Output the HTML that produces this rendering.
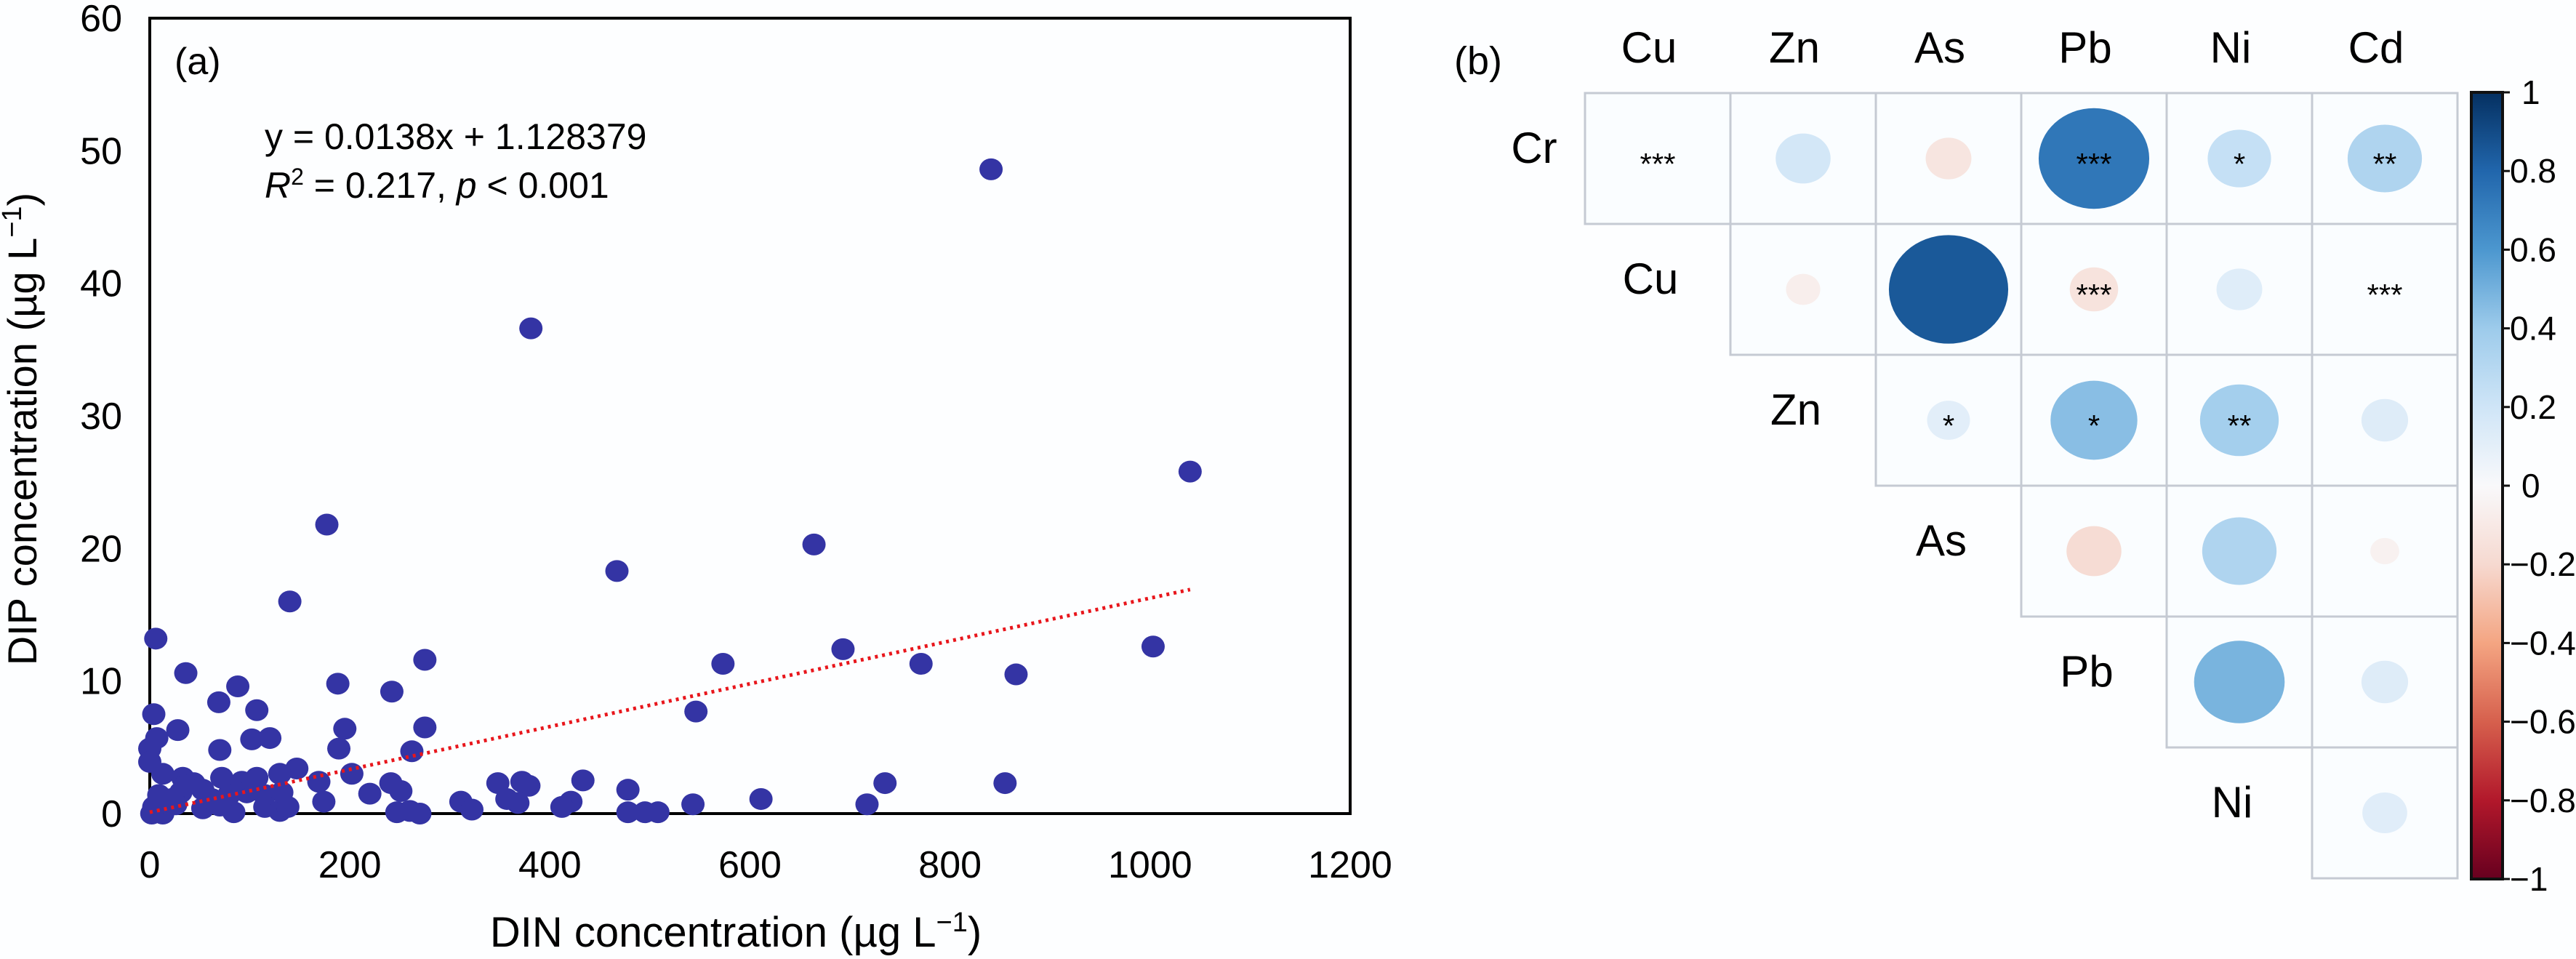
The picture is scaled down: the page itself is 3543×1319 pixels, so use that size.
<!DOCTYPE html>
<html><head><meta charset="utf-8"><style>
html,body{margin:0;padding:0;background:#fdfeff}
svg{display:block}
text{font-family:"Liberation Sans",sans-serif;fill:#000}
</style></head><body>
<svg id="fig" width="3543" height="1319" viewBox="0 0 3543 1319" xmlns="http://www.w3.org/2000/svg">
<rect x="0" y="0" width="3543" height="1319" fill="#fdfeff"/>
<g id="pa"></g>
<g id="pb"></g>
</svg>
<script>
// ---- Panel (a) data ----
const dinX=[841,381,1040,177,664,467,140,6,693,1003,275,573,771,866,36,88,188,242,69,107,546,4,275,195,28,102,120,7,70,189,262,0,0,147,130,202,13,33,44,72,92,107,169,241,251,220,348,372,379,433,478,735,855,174,311,322,357,368,421,412,478,495,508,543,611,717,247,270,260,130,138,115,84,53,13,2,4,22,9,31,53,79,62,35,97,115,132,26,70];
const dipY=[48.6,36.6,25.8,21.8,20.3,18.3,16.0,13.2,12.4,12.6,11.6,11.3,11.3,10.5,10.6,9.6,9.8,9.2,8.4,7.8,7.7,7.5,6.5,6.4,6.3,5.6,5.7,5.7,4.8,4.9,4.7,4.9,3.9,3.4,3.0,3.0,3.0,2.7,2.3,2.7,2.4,2.7,2.4,2.3,1.7,1.5,2.3,2.4,2.1,2.5,1.8,2.3,2.3,0.9,0.9,0.3,1.1,0.8,0.9,0.5,0.1,0.1,0.1,0.7,1.1,0.7,0.1,0,0.2,0.2,0.5,0.5,0.1,0.4,0,0,0.5,1.1,1.4,1.6,1.8,1.4,1.1,2.1,1.6,1.4,1.6,0.7,0.6];
const trendX=[0,1040];
const trendY=[0.1,16.9];
const xTicks=[0,200,400,600,800,1000,1200];
const yTicks=[0,10,20,30,40,50,60];

// ---- Panel (b) data ----
const rowNames=["Cr","Cu","Zn","As","Pb","Ni"];
const colNames=["Cu","Zn","As","Pb","Ni","Cd"];
const corrRows=[
 [0.005,0.18,-0.125,0.73,0.24,0.33],
 [null,-0.07,0.85,-0.14,0.125,0],
 [null,null,0.11,0.45,0.37,0.13],
 [null,null,null,-0.18,0.33,-0.05],
 [null,null,null,null,0.49,0.13],
 [null,null,null,null,null,0.12]];
const starRows=[
 ["***","","","***","*","**"],
 ["","","","***","","***"],
 ["","","*","*","**",""],
 ["","","","","",""],
 ["","","","","",""],
 ["","","","","",""]];
const cbTicks=[1,0.8,0.6,0.4,0.2,0,-0.2,-0.4,-0.6,-0.8,-1];
const cbLabels=["1","0.8","0.6","0.4","0.2","0","−0.2","−0.4","−0.6","−0.8","−1"];

const NS="http://www.w3.org/2000/svg";
function mk(tag,attrs,parent){const e=document.createElementNS(NS,tag);for(const k in attrs)e.setAttribute(k,attrs[k]);parent.appendChild(e);return e;}

// ---- draw panel (a) ----
const pa=document.getElementById('pa');
const X0=206,X1=1857,Y0=1119,Y1=25;
const sx=v=>X0+(v-0)/(1200-0)*(X1-X0);
const sy=v=>Y0-(v-0)/(60-0)*(Y0-Y1);
let frame=mk('rect',{x:X0,y:Y1,width:X1-X0,height:Y0-Y1,fill:'none',stroke:'#000','stroke-width':4},pa);


xTicks.forEach(t=>{const e=mk('text',{x:sx(t),y:1207,'font-size':52,'text-anchor':'middle'},pa);e.textContent=t;

});
yTicks.forEach(t=>{const e=mk('text',{x:168,y:sy(t)+18,'font-size':52,'text-anchor':'end'},pa);e.textContent=t;

});
let xt=mk('text',{x:1012,y:1302,'font-size':58,'text-anchor':'middle'},pa);
xt.innerHTML='DIN concentration (µg L<tspan baseline-shift="super" font-size="38">−1</tspan>)';


let yt=mk('text',{x:0,y:0,'font-size':56,'text-anchor':'middle',transform:'translate(50,590) rotate(-90)'},pa);
yt.innerHTML='DIP concentration (µg L<tspan baseline-shift="super" font-size="38">−1</tspan>)';


let la=mk('text',{x:240,y:102,'font-size':52},pa);la.textContent='(a)';


let eq1=mk('text',{x:364,y:205,'font-size':50},pa);eq1.textContent='y = 0.0138x + 1.128379';


let eq2=mk('text',{x:364,y:272,'font-size':50},pa);
eq2.innerHTML='<tspan font-style="italic">R</tspan><tspan baseline-shift="super" font-size="32">2</tspan> = 0.217, <tspan font-style="italic">p</tspan> &lt; 0.001';


dinX.forEach((v,i)=>{const c=mk('ellipse',{cx:sx(v),cy:sy(dipY[i]),rx:16,ry:15,fill:'#3434a4'},pa);

});
let tl=mk('line',{x1:sx(trendX[0]),y1:sy(trendY[0]),x2:sx(trendX[1]),y2:sy(trendY[1]),stroke:'#e8161c','stroke-width':5,'stroke-dasharray':'4 6'},pa);



// ---- draw panel (b) ----
const pb=document.getElementById('pb');
const GX=2180,GY=128,CW=200,CH=180;
const stops=["#67001f","#b2182b","#d6604d","#f4a582","#f6d9d0","#f9f9fb","#cfe5f7","#9dcbeb","#4c97cf","#2166ac","#053061"];
function hex(h){return [1,3,5].map(i=>parseInt(h.substr(i,2),16));}
function cmap(v){const t=(v+1)/2*10;const i=Math.min(9,Math.floor(t));const f=t-i;const a=hex(stops[i]),b=hex(stops[i+1]);
return 'rgb('+a.map((x,k)=>Math.round(x+(b[k]-x)*f)).join(',')+')';}
let lb=mk('text',{x:2000,y:102,'font-size':54},pb);lb.textContent='(b)';


colNames.forEach((n,j)=>{const e=mk('text',{x:GX+CW*j+CW/2-12,y:86,'font-size':60,'text-anchor':'middle'},pb);e.textContent=n;

});
rowNames.forEach((n,i)=>{const cx=i===0?2110:GX+CW*(i-1)+CW/2-10;const e=mk('text',{x:cx,y:GY+CH*i+CH/2+6,'font-size':60,'text-anchor':'middle'},pb);e.textContent=n;

});
corrRows.forEach((row,i)=>row.forEach((v,j)=>{if(v===null)return;
const r=mk('rect',{x:GX+CW*j,y:GY+CH*i,width:CW,height:CH,fill:'#fafdff',stroke:'#c5cad3','stroke-width':3},pb);

}));
corrRows.forEach((row,i)=>row.forEach((v,j)=>{if(v===null)return;
const w=178*Math.sqrt(Math.abs(v));
const e=mk('ellipse',{cx:GX+CW*j+CW/2,cy:GY+CH*i+CH/2,rx:w/2,ry:w*0.91/2,fill:cmap(v)},pb);


const s=starRows[i][j];if(s){const t=mk('text',{x:GX+CW*j+CW/2,y:GY+CH*i+CH/2+22,'font-size':42,'text-anchor':'middle',fill:'#222'},pb);t.textContent=s;

}
}));
// colorbar
const CBX=3399,CBW=43,CBT=127,CBB=1209;
const defs=mk('defs',{},pb);
const lg=mk('linearGradient',{id:'cbg',x1:0,y1:1,x2:0,y2:0},defs);
stops.forEach((c,k)=>mk('stop',{offset:(k/10),'stop-color':c},lg));
let cb=mk('rect',{x:CBX,y:CBT,width:CBW,height:CBB-CBT,fill:'url(#cbg)',stroke:'#111','stroke-width':4},pb);


const cy=v=>CBB-(v+1)/2*(CBB-CBT);
cbTicks.forEach((v,k)=>{const l=mk('line',{x1:CBX+CBW,y1:cy(v),x2:CBX+CBW+10,y2:cy(v),stroke:'#111','stroke-width':3},pb);


const tx=(v===1||v===0)?3468:3452;
const t=mk('text',{x:tx,y:cy(v)+16,'font-size':46},pb);t.textContent=cbLabels[k];

});
</script>
</body></html>
